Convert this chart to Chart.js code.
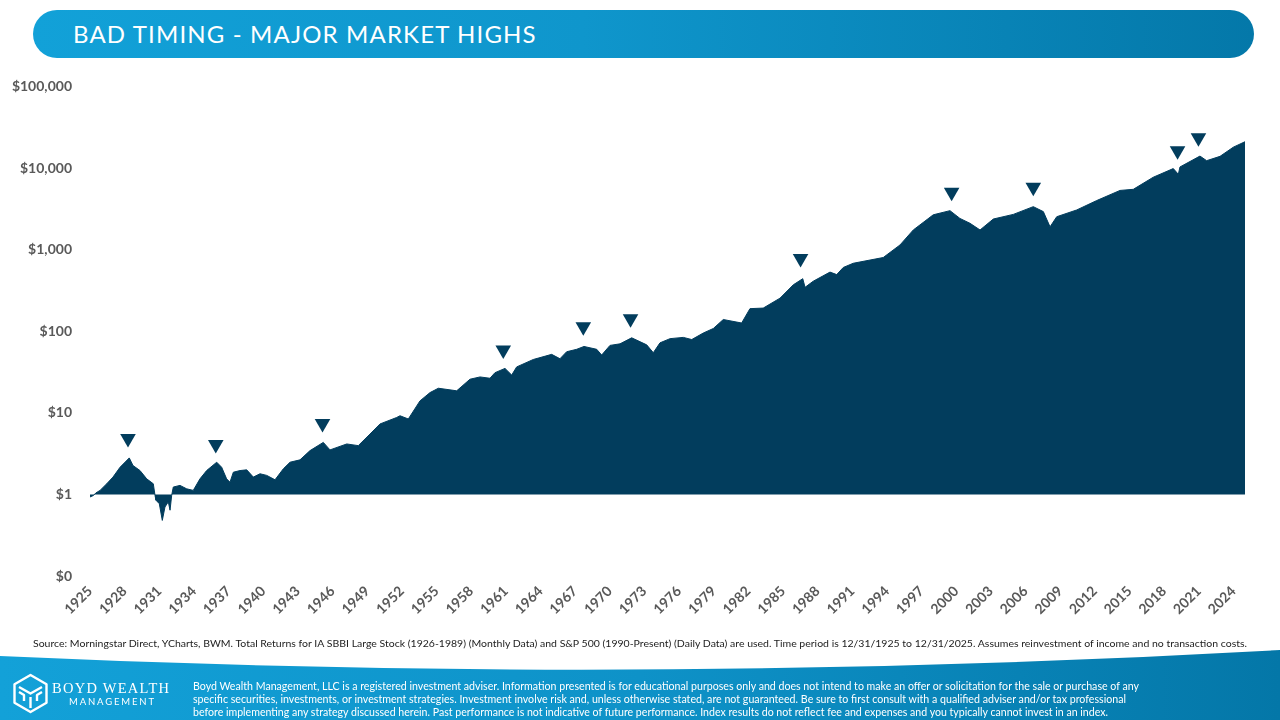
<!DOCTYPE html>
<html>
<head>
<meta charset="utf-8">
<title>Bad Timing - Major Market Highs</title>
<script src="https://cdn.jsdelivr.net/npm/chart.js@4.4.1/dist/chart.umd.min.js"></script>
<style>
  html, body { margin: 0; padding: 0; background: #fff; }
  body { width: 1280px; height: 720px; position: relative; overflow: hidden; font-family: Lato, "Open Sans", sans-serif; }
  #title {
    position: absolute; left: 33px; top: 10px; width: 1221px; height: 48px;
    border-radius: 24px;
    background: linear-gradient(90deg, #12a1d8 0%, #0f96cc 45%, #0478a9 100%);
  }
  #title span {
    position: absolute; left: 40px; top: 10px;
    color: #fff; font-size: 24px; letter-spacing: 1.15px; line-height: 28px;
  }
  #chartWrap { position: absolute; left: 0; top: 60px; width: 1280px; height: 560px; }
  #overlay { position: absolute; left: 0; top: 0; }
</style>
</head>
<body>
<div id="title"><span>BAD TIMING - MAJOR MARKET HIGHS</span></div>
<div id="chartWrap"><canvas id="growth" width="1280" height="560"></canvas></div>

<svg id="overlay" width="1280" height="720" viewBox="0 0 1280 720">
  <defs>
    <linearGradient id="band" x1="0" y1="0" x2="1" y2="0">
      <stop offset="0" stop-color="#13a1d8"/>
      <stop offset="0.5" stop-color="#0e92c8"/>
      <stop offset="1" stop-color="#0477a8"/>
    </linearGradient>
  </defs>
  <text x="33" y="647" font-family="Lato, sans-serif" font-size="9.5" fill="#222"
        textLength="1214" lengthAdjust="spacingAndGlyphs">Source: Morningstar Direct, YCharts, BWM. Total Returns for IA SBBI Large Stock (1926-1989) (Monthly Data) and S&amp;P 500 (1990-Present) (Daily Data) are used. Time period is 12/31/1925 to 12/31/2025. Assumes reinvestment of income and no transaction costs.</text>
  <path d="M0,656 Q640,686 1280,650 L1280,720 L0,720 Z" fill="url(#band)"/>
  <!-- logo -->
  <g fill="none" stroke="#fff" stroke-width="2.4" stroke-linejoin="round">
    <path d="M30.5,675 L46.5,684.2 L46.5,702.8 L30.5,712 L14.5,702.8 L14.5,684.2 Z"/>
    <path d="M19,687 L30.5,693.5 L42,687"/>
    <path d="M30.5,697 L30.5,708"/>
    <path d="M19,692 L24,695 L24,701"/>
    <path d="M42,692 L37,695 L37,701"/>
  </g>
  <text x="52" y="693" font-family="'Liberation Serif', serif" font-size="14.5" fill="#fff"
        textLength="117" lengthAdjust="spacing">BOYD WEALTH</text>
  <text x="69" y="705" font-family="Lato, sans-serif" font-size="9.5" fill="#fff"
        textLength="85" lengthAdjust="spacing">MANAGEMENT</text>
  <g font-family="Lato, sans-serif" font-size="11" fill="#fff">
    <text x="193" y="690" textLength="946" lengthAdjust="spacingAndGlyphs">Boyd Wealth Management, LLC is a registered investment adviser. Information presented is for educational purposes only and does not intend to make an offer or solicitation for the sale or purchase of any</text>
    <text x="193" y="703" textLength="933" lengthAdjust="spacingAndGlyphs">specific securities, investments, or investment strategies. Investment involve risk and, unless otherwise stated, are not guaranteed. Be sure to first consult with a qualified adviser and/or tax professional</text>
    <text x="193" y="716" textLength="915" lengthAdjust="spacingAndGlyphs">before implementing any strategy discussed herein. Past performance is not indicative of future performance. Index results do not reflect fee and expenses and you typically cannot invest in an index.</text>
  </g>
</svg>

<script>
// growth of $1 (year, dollars)
const seriesYears = [
  1925.0, 1925.3, 1925.5, 1925.87, 1926.45, 1926.99, 1927.6, 1928.4, 1928.72, 1929.33,
  1929.91, 1930.48, 1930.63, 1930.71, 1931.0, 1931.26, 1931.49, 1931.78, 1931.93, 1932.07,
  1932.21, 1932.79, 1933.37, 1933.94, 1934.52, 1935.1, 1935.97, 1936.4, 1936.83, 1937.12,
  1937.41, 1937.99, 1938.57, 1939.14, 1939.72, 1940.3, 1941.02, 1941.74, 1942.32, 1943.18,
  1944.05, 1945.2, 1945.78, 1947.23, 1948.23, 1949.24, 1950.11, 1951.55, 1951.84, 1952.56,
  1953.57, 1954.44, 1955.16, 1956.75, 1957.9, 1958.77, 1959.63, 1960.06, 1960.93, 1961.51,
  1961.94, 1963.38, 1964.97, 1965.69, 1966.27, 1967.14, 1967.77, 1968.87, 1969.3, 1970.02,
  1970.89, 1971.9, 1973.2, 1973.77, 1974.35, 1975.22, 1976.37, 1977.1, 1978.1, 1978.97,
  1979.83, 1981.42, 1982.14, 1983.29, 1984.74, 1985.89, 1986.71, 1986.91, 1987.62, 1989.07,
  1989.65, 1990.22, 1991.08, 1993.68, 1995.13, 1996.28, 1998.01, 1999.46, 2000.32, 2001.19,
  2002.06, 2003.21, 2004.94, 2006.67, 2007.54, 2008.12, 2008.7, 2010.43, 2012.16, 2014.18,
  2015.33, 2017.06, 2018.79, 2019.23, 2019.37, 2021.1, 2021.68, 2022.84, 2023.99, 2025.0
];
const seriesValues = [
  0.93, 0.97, 1.04, 1.12, 1.35, 1.63, 2.15, 2.8, 2.26, 1.96,
  1.55, 1.35, 0.97, 0.85, 0.77, 0.48, 0.7, 0.81, 0.64, 0.97,
  1.23, 1.29, 1.17, 1.12, 1.55, 1.96, 2.48, 2.15, 1.55, 1.41,
  1.87, 1.96, 2.0, 1.63, 1.79, 1.71, 1.51, 2.06, 2.48, 2.65,
  3.44, 4.34, 3.51, 4.15, 3.96, 5.49, 7.3, 8.76, 9.2, 8.4,
  14.0, 17.7, 20.0, 18.6, 25.8, 27.5, 26.5, 31, 35, 29,
  36.5, 45, 52, 46, 56, 60, 65, 60, 51, 67,
  70, 83, 68, 54.5, 72, 81, 84, 79, 95, 108,
  139, 126, 189, 192, 254, 370, 440, 345, 410, 530,
  494, 604, 680, 800, 1140, 1740, 2670, 3000, 2410, 2100,
  1740, 2370, 2700, 3360, 2920, 1900, 2530, 3060, 3990, 5310,
  5480, 7710, 9840, 8370, 10300, 14000, 12300, 13900, 18000, 21000
];

// market-high markers
const highYears = [1928.29, 1935.89, 1945.13, 1960.78, 1967.71, 1971.8, 1986.52, 1999.6, 2006.67, 2019.16, 2020.97];
const highValues = [4.85, 4.09, 7.39, 58.9, 113.6, 142, 776, 5050, 5800, 16300, 23500];

const xTickYears = [1925, 1928, 1931, 1934, 1937, 1940, 1943, 1946, 1949, 1952, 1955, 1958, 1961, 1964, 1967,
  1970, 1973, 1976, 1979, 1982, 1985, 1988, 1991, 1994, 1997, 2000, 2003, 2006, 2009, 2012, 2015, 2018, 2021, 2024];
const yTickValues = [0.1, 1, 10, 100, 1000, 10000, 100000];
const yTickLabels = ['$0', '$1', '$10', '$100', '$1,000', '$10,000', '$100,000'];

const navy = '#023d5d';
const tickColor = '#595959';

const growthPoints = seriesYears.map((yr, i) => ({ x: yr, y: seriesValues[i] }));
const highPoints = highYears.map((yr, i) => ({ x: yr, y: highValues[i] }));

const ctx = document.getElementById('growth').getContext('2d');
new Chart(ctx, {
  type: 'line',
  data: {
    datasets: [
      {
        label: 'Markets Highs',
        type: 'scatter',
        data: highPoints,
        pointStyle: 'triangle',
        rotation: 180,
        radius: 9,
        backgroundColor: navy,
        borderColor: navy,
        borderWidth: 0,
        order: 0
      },
      {
        label: 'Growth of $1',
        data: growthPoints,
        borderColor: navy,
        backgroundColor: navy,
        borderWidth: 1,
        pointRadius: 0,
        tension: 0,
        fill: { value: 1 },
        order: 1
      }
    ]
  },
  options: {
    responsive: false,
    animation: false,
    devicePixelRatio: 1,
    layout: { padding: { left: 0, right: 35, top: 24, bottom: 0 } },
    plugins: { legend: { display: false }, tooltip: { enabled: false } },
    scales: {
      x: {
        type: 'linear',
        min: 1925,
        max: 2025,
        grid: { display: false, drawTicks: false },
        border: { display: false },
        afterBuildTicks: scale => { scale.ticks = xTickYears.map(v => ({ value: v })); },
        afterFit: scale => { scale.height = 44; },
        ticks: {
          autoSkip: false,
          minRotation: 45,
          maxRotation: 45,
          padding: 7,
          color: tickColor,
          font: { family: 'Lato', size: 14, weight: 'bold' },
          callback: v => String(v)
        }
      },
      y: {
        type: 'logarithmic',
        min: 0.1,
        max: 100000,
        grid: { display: false, drawTicks: false },
        border: { display: false },
        afterBuildTicks: scale => { scale.ticks = yTickValues.map(v => ({ value: v })); },
        afterFit: scale => { scale.width = 90; },
        ticks: {
          padding: 18,
          color: tickColor,
          font: { family: 'Lato', size: 14, weight: 'bold' },
          callback: v => yTickLabels[yTickValues.indexOf(v)]
        }
      }
    }
  }
});
</script>
</body>
</html>
